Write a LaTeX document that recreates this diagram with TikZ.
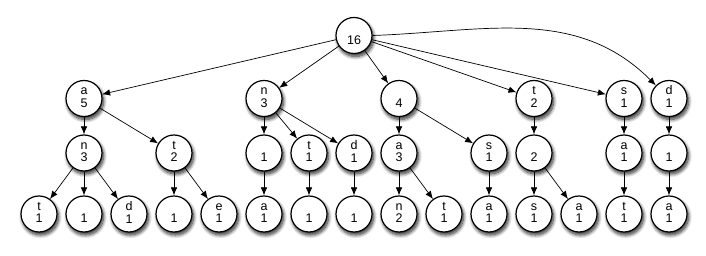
\documentclass[tikz,border=0pt]{standalone}
\usepackage{fontspec}
\setmainfont{Liberation Sans}
\usetikzlibrary{arrows.meta,shadows.blur}
\tikzset{
  tnode/.style={circle,draw=black,line width=1.2pt,fill=white,minimum size=36pt,inner sep=0pt,
    align=center,font=\fontsize{12.5}{12.8}\selectfont,
    blur shadow={shadow xshift=1.5pt,shadow yshift=-3pt,shadow blur radius=3.5pt,shadow blur steps=10,shadow opacity=85}},
  edge/.style={line width=0.7pt,-{Latex[length=8pt,width=6.5pt]}}
}
\newcommand{\lab}[2]{\strut #1\\\strut #2}
\begin{document}
\begin{tikzpicture}[x=1pt,y=-1pt]
\useasboundingbox (0,0) rectangle (706,256);
\def\ya{98.5}\def\yb{153}\def\yc{214}
% root
\node[tnode] (r) at (354,35.5) {\lab{}{16}};
% level 1
\node[tnode] (a1) at (84,\ya) {\lab{a}{5}};
\node[tnode] (a5) at (264,\ya) {\lab{n}{3}};
\node[tnode] (a8) at (399,\ya) {\lab{}{4}};
\node[tnode] (a11) at (534,\ya) {\lab{t}{2}};
\node[tnode] (a13) at (624,\ya) {\lab{s}{1}};
\node[tnode] (a14) at (669,\ya) {\lab{d}{1}};
% level 2
\node[tnode] (b1) at (84,\yb) {\lab{n}{3}};
\node[tnode] (b3) at (174,\yb) {\lab{t}{2}};
\node[tnode] (b5) at (264,\yb) {\lab{}{1}};
\node[tnode] (b6) at (309,\yb) {\lab{t}{1}};
\node[tnode] (b7) at (354,\yb) {\lab{d}{1}};
\node[tnode] (b8) at (399,\yb) {\lab{a}{3}};
\node[tnode] (b10) at (489,\yb) {\lab{s}{1}};
\node[tnode] (b11) at (534,\yb) {\lab{}{2}};
\node[tnode] (b13) at (624,\yb) {\lab{a}{1}};
\node[tnode] (b14) at (669,\yb) {\lab{}{1}};
% level 3
\node[tnode] (c0) at (39,\yc) {\lab{t}{1}};
\node[tnode] (c1) at (84,\yc) {\lab{}{1}};
\node[tnode] (c2) at (129,\yc) {\lab{d}{1}};
\node[tnode] (c3) at (174,\yc) {\lab{}{1}};
\node[tnode] (c4) at (219,\yc) {\lab{e}{1}};
\node[tnode] (c5) at (264,\yc) {\lab{a}{1}};
\node[tnode] (c6) at (309,\yc) {\lab{}{1}};
\node[tnode] (c7) at (354,\yc) {\lab{}{1}};
\node[tnode] (c8) at (399,\yc) {\lab{n}{2}};
\node[tnode] (c9) at (444,\yc) {\lab{t}{1}};
\node[tnode] (c10) at (489,\yc) {\lab{a}{1}};
\node[tnode] (c11) at (534,\yc) {\lab{s}{1}};
\node[tnode] (c12) at (579,\yc) {\lab{a}{1}};
\node[tnode] (c13) at (624,\yc) {\lab{t}{1}};
\node[tnode] (c14) at (669,\yc) {\lab{a}{1}};
% edges
\draw[edge] (r) -- (a1);
\draw[edge] (r) -- (a5);
\draw[edge] (r) -- (a8);
\draw[edge] (r) -- (a11);
\draw[edge] (r) -- (a13);
\draw[edge] (r.east) to[out=2,in=135] (a14);
\draw[edge] (a1) -- (b1);
\draw[edge] (a1) -- (b3);
\draw[edge] (a5) -- (b5);
\draw[edge] (a5) -- (b6);
\draw[edge] (a5) -- (b7);
\draw[edge] (a8) -- (b8);
\draw[edge] (a8) -- (b10);
\draw[edge] (a11) -- (b11);
\draw[edge] (a13) -- (b13);
\draw[edge] (a14) -- (b14);
\draw[edge] (b1) -- (c0);
\draw[edge] (b1) -- (c1);
\draw[edge] (b1) -- (c2);
\draw[edge] (b3) -- (c3);
\draw[edge] (b3) -- (c4);
\draw[edge] (b5) -- (c5);
\draw[edge] (b6) -- (c6);
\draw[edge] (b7) -- (c7);
\draw[edge] (b8) -- (c8);
\draw[edge] (b8) -- (c9);
\draw[edge] (b10) -- (c10);
\draw[edge] (b11) -- (c11);
\draw[edge] (b11) -- (c12);
\draw[edge] (b13) -- (c13);
\draw[edge] (b14) -- (c14);
\end{tikzpicture}
\end{document}
